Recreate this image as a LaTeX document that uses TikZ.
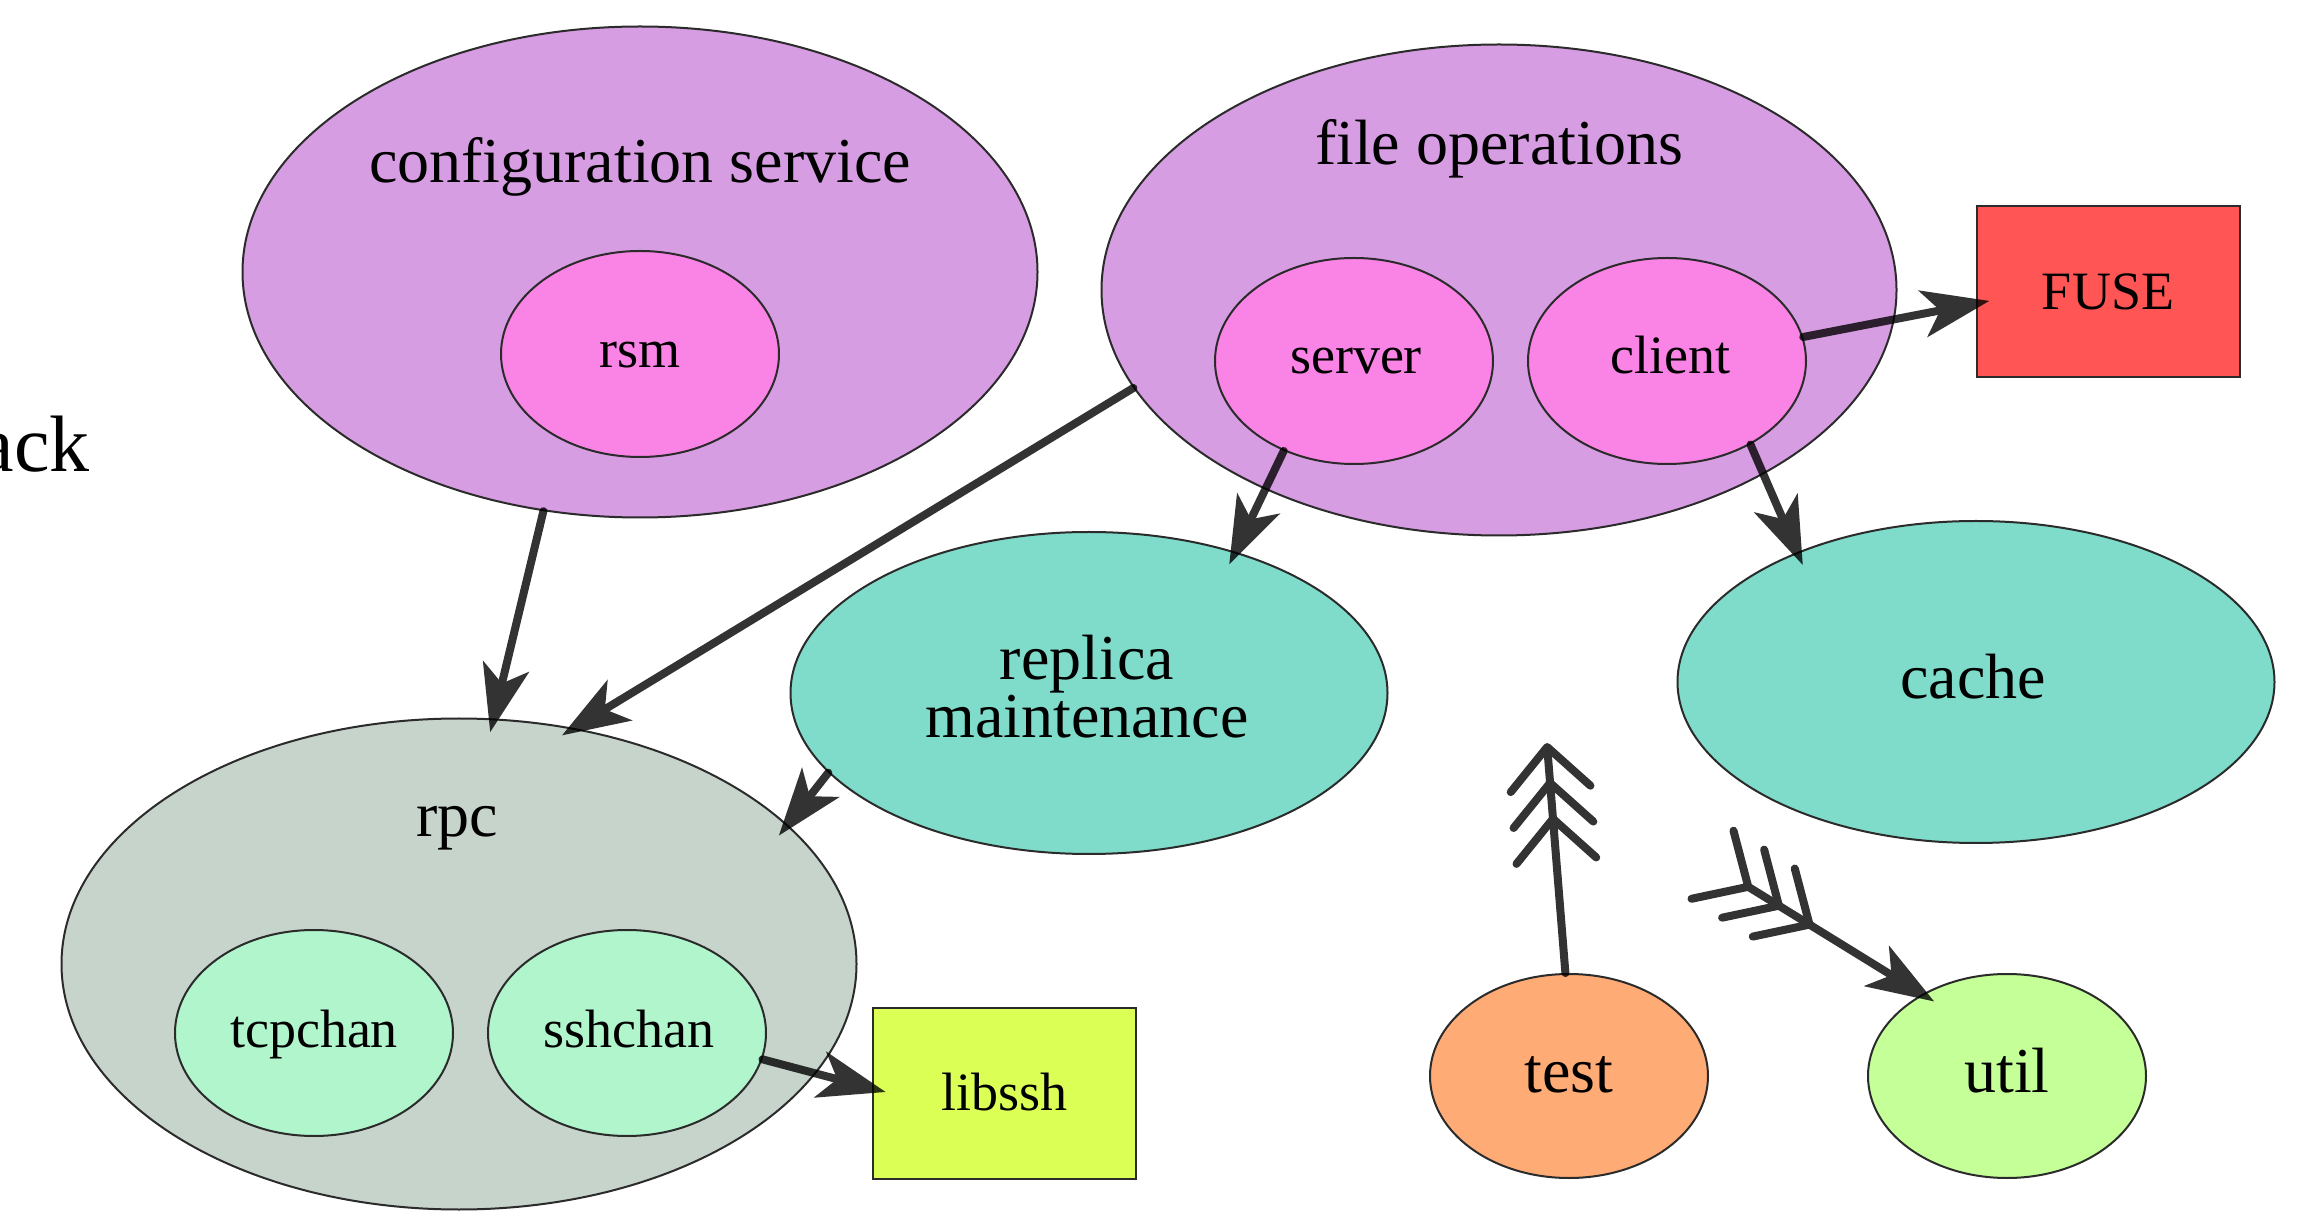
\documentclass[tikz,border=0pt]{standalone}
\usepackage{fontspec}
\setmainfont{Liberation Serif}
\usetikzlibrary{arrows.meta,shapes.geometric}

\definecolor{clusterfill}{HTML}{D79DE2}
\definecolor{innerfill}{HTML}{F984E5}
\definecolor{tealfill}{HTML}{7FDBCA}
\definecolor{rpcfill}{HTML}{C7D4CC}
\definecolor{mintfill}{HTML}{B0F5CC}
\definecolor{limefill}{HTML}{DCFF55}
\definecolor{redfill}{HTML}{FF5555}
\definecolor{orangefill}{HTML}{FFAB76}
\definecolor{greenfill}{HTML}{C4FF98}
\definecolor{outline}{HTML}{2B2B2B}

\newcommand\labelbig{\fontsize{32}{38}\selectfont}
\newcommand\labelsmall{\fontsize{27}{32}\selectfont}
\newcommand\labelhuge{\fontsize{40}{48}\selectfont}

\tikzset{
  blob/.style={ellipse, draw=outline, line width=1pt, inner sep=0pt},
  bigblob/.style={blob, minimum width=397.5pt, minimum height=245.5pt},
  midblob/.style={blob, minimum width=298.5pt, minimum height=161pt, fill=tealfill},
  smallblob/.style={blob, minimum width=139pt, minimum height=103pt},
  libbox/.style={rectangle, draw=outline, line width=1pt, minimum width=131.5pt, minimum height=85.5pt, inner sep=0pt},
  txt/.style={inner sep=0pt, anchor=base},
  chev/.tip={Straight Barb[round, length=21pt, width=40pt, sep=-7pt]},
  head/.tip={Stealth[length=34pt, width=24pt, inset=9pt, line width=0pt]},
  wire/.style={line width=4pt, draw=black, line cap=round},
  edge/.style={wire, -{head[]}, shorten >=-7pt},
  see through/.style={transparency group, opacity=0.8},
}

\begin{document}
\begin{tikzpicture}[x=0.5pt, y=-0.5pt]
\clip (0,0) rectangle (2304,1224);

% clusters
\node[bigblob, fill=clusterfill] (cfg) at (640,272) {};
\node[txt, font=\labelbig] (cfglabel) at (640,183) {configuration service};
\node[bigblob, fill=clusterfill] (fileops) at (1499,290) {};
\node[txt, font=\labelbig] (fileopslabel) at (1499,165) {file operations};
\node[bigblob, fill=rpcfill] (rpc) at (459,964) {};
\node[txt, font=\labelbig] (rpclabel) at (457,836) {rpc};

% nodes inside clusters
\node[smallblob, fill=innerfill] (rsm) at (640,354) {};
\node[txt, font=\labelsmall] (rsmlabel) at (640,368) {rsm};
\node[smallblob, fill=innerfill] (server) at (1354,361) {};
\node[txt, font=\labelsmall] (serverlabel) at (1356,374) {server};
\node[smallblob, fill=innerfill] (client) at (1667,361) {};
\node[txt, font=\labelsmall] (clientlabel) at (1670,374) {client};
\node[smallblob, fill=mintfill] (tcpchan) at (314,1033) {};
\node[txt, font=\labelsmall] (tcpchanlabel) at (314,1047) {tcpchan};
\node[smallblob, fill=mintfill] (sshchan) at (627,1033) {};
\node[txt, font=\labelsmall] (sshchanlabel) at (629,1047) {sshchan};

% free nodes
\node[midblob] (replica) at (1089,693) {};
\node[txt, font=\labelbig] (replicaA) at (1087,680) {replica};
\node[txt, font=\labelbig] (replicaB) at (1087,738) {maintenance};
\node[midblob] (cache) at (1976,682) {};
\node[txt, font=\labelbig] (cachelabel) at (1973,699) {cache};
\node[libbox, fill=redfill] (fuse) at (2108,292) {};
\node[txt, font=\labelsmall] (fuselabel) at (2108,310) {FUSE};
\node[libbox, fill=limefill] (libssh) at (1004.5,1093) {};
\node[txt, font=\labelsmall] (libsshlabel) at (1004.5,1110) {libssh};
\node[blob, minimum width=139pt, minimum height=102pt, fill=orangefill] (test) at (1569,1076) {};
\node[txt, font=\labelbig] (testlabel) at (1569,1092) {test};
\node[blob, minimum width=139pt, minimum height=102pt, fill=greenfill] (util) at (2007,1076) {};
\node[txt, font=\labelbig] (utillabel) at (2007,1092) {util};

\node[inner sep=0pt, anchor=base east, font=\labelhuge] (stack) at (90,472) {ack};

% free ends of the two open connectors
\coordinate (testend) at (1548,757);
\coordinate (utiltail) at (1721,870);

% connectors, each one translucent as a whole
\begin{scope}[see through]\draw[edge] (cfg.-112.8) -- (rpc.82.3);\end{scope}
\begin{scope}[see through]\draw[edge] (fileops.-165.4) -- (rpc.64.6);\end{scope}
\begin{scope}[see through]\draw[edge] (server.-128.4) -- (replica.44.3);\end{scope}
\begin{scope}[see through]\draw[edge] (client.10.2) -- (fuse.185.9);\end{scope}
\begin{scope}[see through]\draw[edge] (client.-45.8) -- (cache.144.4);\end{scope}
\begin{scope}[see through]\draw[edge] (replica.-163) -- (rpc.23.6);\end{scope}
\begin{scope}[see through]\draw[edge] (sshchan.-11.2) -- (libssh.178.6);\end{scope}
\begin{scope}[see through]\draw[wire, -{chev[] chev[] chev[]}] (test.92.3) -- (testend);\end{scope}
\begin{scope}[see through]\draw[edge, {chev[reversed] chev[reversed] chev[reversed]}-{head[]}] (utiltail) -- (util.136.1);\end{scope}
\end{tikzpicture}
\end{document}
